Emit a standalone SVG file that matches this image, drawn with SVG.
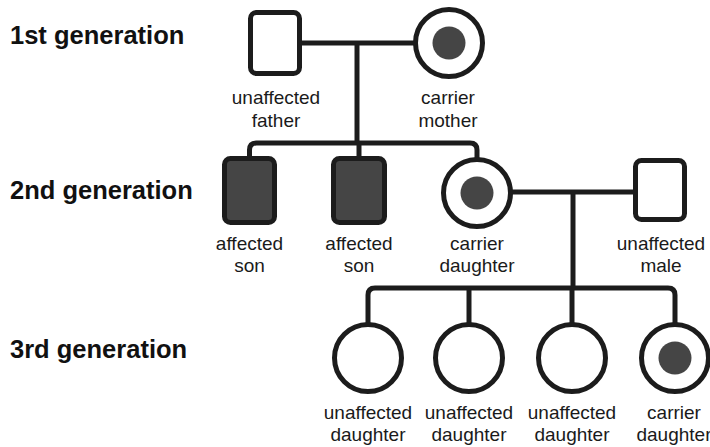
<svg xmlns="http://www.w3.org/2000/svg" width="710" height="447" viewBox="0 0 710 447">
  <style>
    .gen { font-family: "Liberation Sans", Arial, sans-serif; font-weight: bold; font-size: 25.5px; fill: #111; }
    .lbl { font-family: "Liberation Sans", Arial, sans-serif; font-size: 19px; fill: #1a1a1a; text-anchor: middle; }
    .sym { stroke: #1c1c1c; stroke-width: 5; fill: #fff; }
    .aff { stroke: #1c1c1c; stroke-width: 5; fill: #454545; }
    .dot { fill: #454545; }
    .line { stroke: #1c1c1c; stroke-width: 5; fill: none; stroke-linejoin: round; }
  </style>
  <rect width="710" height="447" fill="#fff"/>

  <!-- generation headings -->
  <text class="gen" x="10" y="44">1st generation</text>
  <text class="gen" x="10" y="199">2nd generation</text>
  <text class="gen" x="10" y="358">3rd generation</text>

  <!-- connectors -->
  <g id="connectors">
    <path class="line" d="M302 43 H416"/>
    <path class="line" d="M357 43 V143"/>
    <path class="line" d="M249.5 158 V150 Q249.5 143 256.5 143 H470 Q477 143 477 150 V158"/>
    <path class="line" d="M359 143 V158"/>
    <path class="line" d="M511 192 H635"/>
    <path class="line" d="M573 192 V288"/>
    <path class="line" d="M368 324 V295 Q368 288 375 288 H668 Q675 288 675 295 V324"/>
    <path class="line" d="M469 288 V324"/>
    <path class="line" d="M572 288 V324"/>
  </g>

  <!-- 1st generation -->
  <g id="father">
    <rect class="sym" x="250.5" y="12.5" width="49" height="61" rx="6"/>
    <text class="lbl" x="276" y="104">unaffected</text>
    <text class="lbl" x="276" y="127">father</text>
  </g>
  <g id="mother">
    <circle class="sym" cx="449" cy="43" r="33.5"/>
    <circle class="dot" cx="449" cy="43" r="16.5"/>
    <text class="lbl" x="448" y="104">carrier</text>
    <text class="lbl" x="448" y="127">mother</text>
  </g>

  <!-- 2nd generation -->
  <g id="son1">
    <rect class="aff" x="224.5" y="158.5" width="50" height="64" rx="6"/>
    <text class="lbl" x="249.5" y="250">affected</text>
    <text class="lbl" x="249.5" y="272">son</text>
  </g>
  <g id="son2">
    <rect class="aff" x="333.5" y="158.5" width="51" height="64" rx="6"/>
    <text class="lbl" x="359" y="250">affected</text>
    <text class="lbl" x="359" y="272">son</text>
  </g>
  <g id="daughter">
    <circle class="sym" cx="477" cy="193" r="33.5"/>
    <circle class="dot" cx="477" cy="193" r="16.5"/>
    <text class="lbl" x="477" y="250">carrier</text>
    <text class="lbl" x="477" y="272">daughter</text>
  </g>
  <g id="male">
    <rect class="sym" x="635.5" y="160.5" width="49" height="59" rx="6"/>
    <text class="lbl" x="661" y="250">unaffected</text>
    <text class="lbl" x="661" y="272">male</text>
  </g>

  <!-- 3rd generation -->
  <g id="gd1">
    <circle class="sym" cx="368" cy="358" r="33.5"/>
    <text class="lbl" x="368" y="419">unaffected</text>
    <text class="lbl" x="368" y="441">daughter</text>
  </g>
  <g id="gd2">
    <circle class="sym" cx="469" cy="358" r="33.5"/>
    <text class="lbl" x="469" y="419">unaffected</text>
    <text class="lbl" x="469" y="441">daughter</text>
  </g>
  <g id="gd3">
    <circle class="sym" cx="572" cy="358" r="33.5"/>
    <text class="lbl" x="572" y="419">unaffected</text>
    <text class="lbl" x="572" y="441">daughter</text>
  </g>
  <g id="gd4">
    <circle class="sym" cx="675" cy="358" r="33.5"/>
    <circle class="dot" cx="675" cy="358" r="16.5"/>
    <text class="lbl" x="674" y="419">carrier</text>
    <text class="lbl" x="674" y="441">daughter</text>
  </g>
</svg>
